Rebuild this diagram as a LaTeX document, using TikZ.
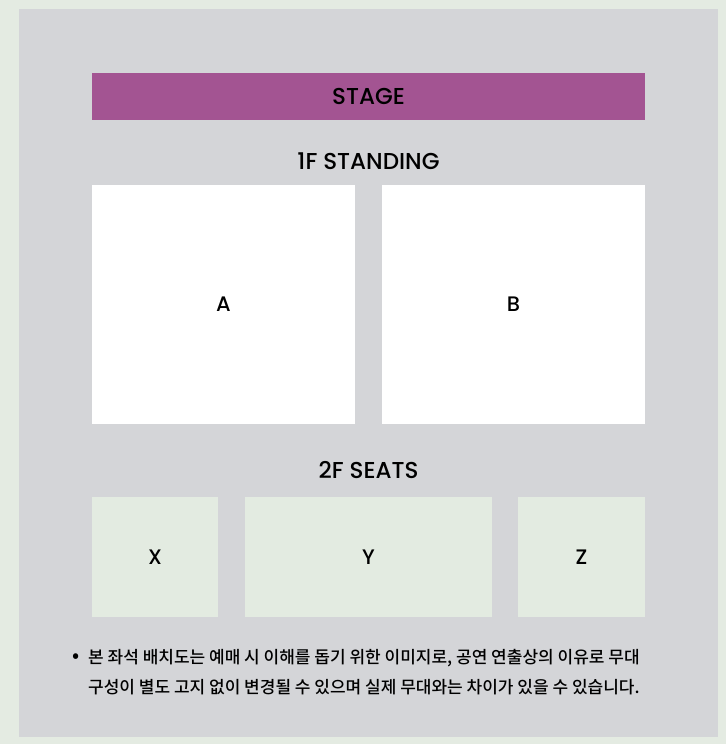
\documentclass[tikz,border=0pt]{standalone}
\usepackage{fontspec}
\setmainfont{Poppins}
\newfontfamily\headfont{Poppins Medium}
\newfontfamily\krfont{Noto Sans CJK KR Medium}
\usetikzlibrary{positioning}
\definecolor{outerbg}{HTML}{E4EBE2}
\definecolor{panelbg}{HTML}{D4D5D8}
\definecolor{stagecol}{HTML}{A35492}
\definecolor{seatcol}{HTML}{E3EBE1}
\begin{document}
\begin{tikzpicture}[x=1pt,y=-1pt,
        block/.style={rectangle,outer sep=0pt,inner sep=0pt,anchor=north west,font=\headfont\fontsize{21}{21}\selectfont},
        floor/.style={block,fill=white,minimum width=263pt,minimum height=239pt},
        seat/.style={block,fill=seatcol,minimum height=120pt},
        heading/.style={font=\headfont\fontsize{23}{23}\selectfont}]
   \fill[outerbg] (0,0) rectangle (726,744);
   \useasboundingbox (0,0) rectangle (726,744);
   \fill[panelbg] (19,9) rectangle (718,737);
   % stage
   \node (stage) [block,fill=stagecol,minimum width=553pt,minimum height=47pt,heading] at (92,73) {STAGE};
   % 1F
   \node (first) [heading] at (368.5,161) {1F STANDING};
   \node (A) [floor] at (92,185) {A};
   \node (B) [floor] at (382,185) {B};
   % 2F
   \node (second) [heading] at (368.5,470) {2F SEATS};
   \node (X) [seat,minimum width=126pt] at (92,497) {X};
   \node (Y) [seat,minimum width=247pt] at (245,497) {Y};
   \node (Z) [seat,minimum width=127pt] at (518,497) {Z};
   % note
   \node (dot) [font=\krfont\fontsize{20}{20}\selectfont] at (76,658) {•};
   \node (note) [anchor=west,inner sep=0pt,align=left,font=\krfont\fontsize{17}{30}\selectfont] at (88,672)
      {본 좌석 배치도는 예매 시 이해를 돕기 위한 이미지로, 공연 연출상의 이유로 무대\\
       구성이 별도 고지 없이 변경될 수 있으며 실제 무대와는 차이가 있을 수 있습니다.};
\end{tikzpicture}
\end{document}
